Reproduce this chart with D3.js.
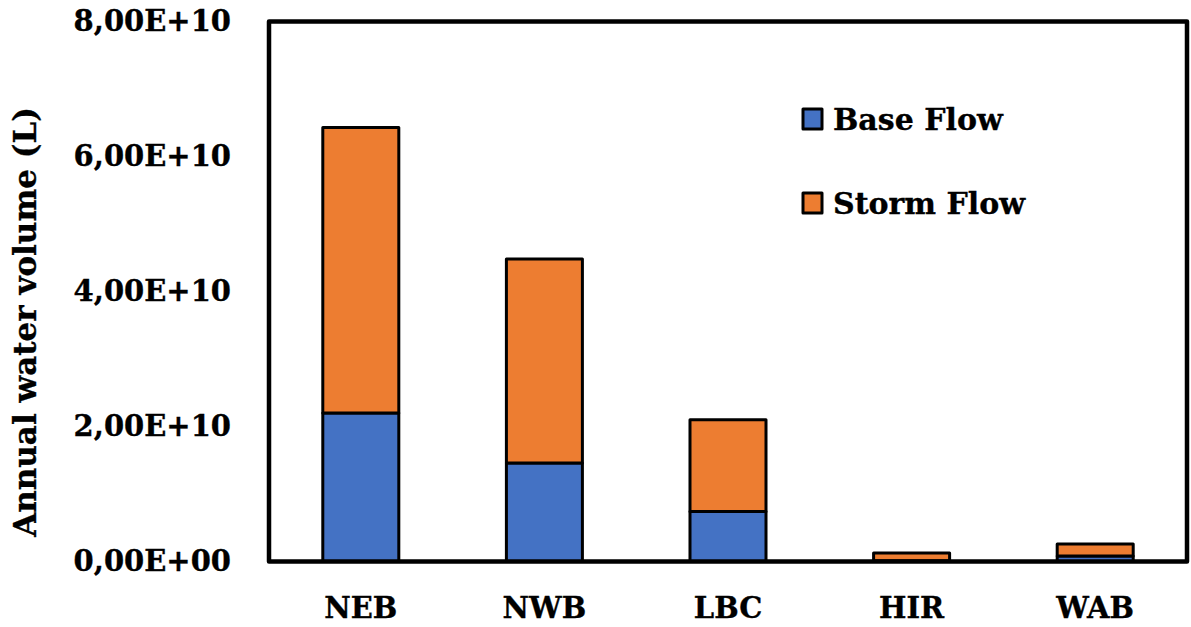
<!DOCTYPE html>
<html>
<head>
<meta charset="utf-8">
<script src="https://cdn.jsdelivr.net/npm/d3@7"></script>
<style>
  html, body { margin: 0; padding: 0; background: #fff; }
  svg text { font-family: "DejaVu Serif", serif; font-weight: bold; fill: #000; stroke: #000; stroke-width: 0.35px; }
</style>
</head>
<body>
<svg id="chart" width="1191" height="627"></svg>
<script>
// Annual water volume per basin (litres), split into base flow and storm flow
const categories = ["NEB", "NWB", "LBC", "HIR", "WAB"];
const baseFlow  = [2.20e10, 1.46e10, 0.74e10, 0.01e10, 0.08e10];
const stormFlow = [4.23e10, 3.02e10, 1.36e10, 0.115e10, 0.18e10];
const seriesNames = ["Base Flow", "Storm Flow"];
const seriesColors = ["#4472C4", "#ED7D31"];
const yTicks = [0, 2e10, 4e10, 6e10, 8e10];

const svg = d3.select("#chart");
const plotLeft = 269, plotRight = 1187, plotTop = 21.5, plotBottom = 561.5;

const x = d3.scaleBand().domain(categories).range([plotLeft, plotRight])
  .paddingInner(0.586).paddingOuter(0.293);
const y = d3.scaleLinear().domain([0, 8e10]).range([plotBottom, plotTop]);

// Excel-style scientific tick labels with a decimal comma
function sci(v) {
  if (v === 0) return "0,00E+00";
  const e = Math.floor(Math.log10(v));
  const m = v / Math.pow(10, e);
  return m.toFixed(2).replace(".", ",") + "E+" + String(e).padStart(2, "0");
}

const rows = categories.map((c, i) => ({ cat: c, "Base Flow": baseFlow[i], "Storm Flow": stormFlow[i] }));
const stacked = d3.stack().keys(seriesNames)(rows);

// bars
svg.append("g").selectAll("g").data(stacked).join("g")
  .attr("fill", (d, i) => seriesColors[i])
  .selectAll("rect").data(d => d).join("rect")
  .attr("x", d => x(d.data.cat))
  .attr("width", x.bandwidth())
  .attr("y", d => y(d[1]))
  .attr("height", d => y(d[0]) - y(d[1]))
  .attr("stroke", "#000").attr("stroke-width", 3).attr("stroke-linejoin", "round");

// plot frame
svg.append("rect")
  .attr("x", plotLeft).attr("y", plotTop)
  .attr("width", plotRight - plotLeft).attr("height", plotBottom - plotTop)
  .attr("fill", "none").attr("stroke", "#000").attr("stroke-width", 4.5)
  .attr("stroke-linejoin", "round");

// y axis labels
const yAxis = d3.axisLeft(y).tickValues(yTicks).tickFormat(sci).tickSize(0).tickPadding(38);
const gy = svg.append("g").attr("transform", `translate(${plotLeft},0)`).call(yAxis);
gy.select(".domain").remove();
gy.selectAll("text").attr("font-size", 29).attr("font-family", "DejaVu Serif").attr("font-weight", "bold").attr("fill", "#000");

// x axis labels
const xAxis = d3.axisBottom(x).tickSize(0).tickPadding(36);
const gx = svg.append("g").attr("transform", `translate(0,${plotBottom})`).call(xAxis);
gx.select(".domain").remove();
gx.selectAll("text").attr("font-size", 29).attr("font-family", "DejaVu Serif").attr("font-weight", "bold").attr("fill", "#000");

// y axis title
svg.append("text")
  .attr("transform", `translate(36,322) rotate(-90)`)
  .attr("text-anchor", "middle")
  .attr("font-size", 31)
  .text("Annual water volume (L)");

// legend
const legend = svg.append("g");
seriesNames.forEach((name, i) => {
  const ly = 119 + i * 84;
  legend.append("rect")
    .attr("x", 803).attr("y", ly - 10).attr("width", 19).attr("height", 20)
    .attr("fill", seriesColors[i]).attr("stroke", "#000").attr("stroke-width", 3)
    .attr("stroke-linejoin", "round");
  legend.append("text")
    .attr("x", 833).attr("y", ly + 11)
    .attr("font-size", 30)
    .text(name);
});
</script>
</body>
</html>
